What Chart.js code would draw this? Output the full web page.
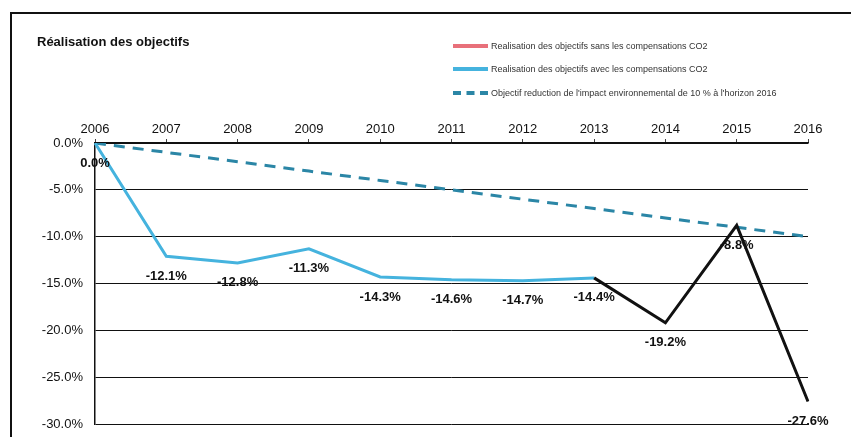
<!DOCTYPE html>
<html>
<head>
<meta charset="utf-8">
<script src="https://cdn.jsdelivr.net/npm/chart.js@4"></script>
<style>
  html, body { margin: 0; padding: 0; background: #fff; }
  #wrap { position: relative; width: 851px; height: 437px; overflow: hidden; font-family: "Liberation Sans", Arial, sans-serif; }
  #frame { position: absolute; left: 10px; top: 12px; width: 845px; height: 430px; border-left: 2px solid #111; border-top: 2px solid #111; }
  #title { position: absolute; left: 37px; top: 34px; font-size: 13px; font-weight: bold; color: #111; }
  #legend { position: absolute; left: 453px; top: 34px; font-size: 9px; color: #333; }
  #legend div { height: 23.5px; display: flex; align-items: center; }
  #legend span.sw { display: inline-block; width: 35px; height: 0; margin-right: 3px; }
  canvas { position: absolute; left: 0; top: 0; }
</style>
</head>
<body>
<div id="wrap">
  <div id="frame"></div>
  <canvas id="objectifsChart" width="851" height="437"></canvas>
  <div id="title">Réalisation des objectifs</div>
  <div id="legend"></div>
</div>
<script>
const years = ['2006', '2007', '2008', '2009', '2010', '2011', '2012', '2013', '2014', '2015', '2016'];
const avecCompensations = [0.0, -12.1, -12.8, -11.3, -14.3, -14.6, -14.7, -14.4, null, null, null];
const sansCompensations = [null, null, null, null, null, null, null, -14.4, -19.2, -8.8, -27.6];
const objectif = [0, -1, -2, -3, -4, -5, -6, -7, -8, -9, -10];

const legendItems = [
  { text: 'Realisation des objectifs sans les compensations CO2', border: '4px solid #e8707a' },
  { text: 'Realisation des objectifs avec les compensations CO2', border: '4px solid #45b3de' },
  { text: 'Objectif  reduction de l\'impact environnemental de 10 % à l\'horizon 2016', border: '4px dashed #2b86a6' }
];
const legendEl = document.getElementById('legend');
legendItems.forEach(function(item) {
  const row = document.createElement('div');
  row.innerHTML = '<span class="sw" style="border-top:' + item.border + '"></span>' + item.text;
  legendEl.appendChild(row);
});

// draws the percent labels under each point
const pointLabels = {
  id: 'pointLabels',
  afterDatasetsDraw: function(chart) {
    const ctx = chart.ctx;
    const x = chart.scales.x;
    const y = chart.scales.y;
    ctx.save();
    ctx.font = 'bold 13px "Liberation Sans", Arial, sans-serif';
    ctx.fillStyle = '#111';
    ctx.textAlign = 'center';
    ctx.textBaseline = 'middle';
    const done = {};
    [avecCompensations, sansCompensations].forEach(function(series) {
      series.forEach(function(v, i) {
        if (v === null || done[i]) return;
        done[i] = true;
        ctx.fillText(v.toFixed(1) + '%', x.getPixelForValue(i), y.getPixelForValue(v) + 20);
      });
    });
    ctx.restore();
  }
};

const ctx = document.getElementById('objectifsChart').getContext('2d');
const objectifsChart = new Chart(ctx, {
  type: 'line',
  data: {
    labels: years,
    datasets: [{
      label: 'Realisation des objectifs sans les compensations CO2',
      data: sansCompensations,
      borderColor: '#111',
      borderWidth: 3,
      pointRadius: 0,
      tension: 0
    },
    {
      label: 'Realisation des objectifs avec les compensations CO2',
      data: avecCompensations,
      borderColor: '#45b3de',
      borderWidth: 3,
      pointRadius: 0,
      tension: 0
    },
    {
      label: 'Objectif reduction de l\'impact environnemental de 10 % à l\'horizon 2016',
      data: objectif,
      borderColor: '#2b86a6',
      borderWidth: 3,
      borderDash: [11, 8],
      pointRadius: 0,
      tension: 0
    }]
  },
  options: {
    responsive: false,
    animation: false,
    layout: {
      padding: { top: 100, left: 0, right: 43, bottom: 13 }
    },
    scales: {
      x: {
        position: 'top',
        offset: false,
        grid: { display: true, drawOnChartArea: false, tickLength: 4, color: '#444' },
        border: { color: '#111', width: 1.5 },
        ticks: {
          color: '#111',
          font: { family: '"Liberation Sans", Arial, sans-serif', size: 13 },
          maxRotation: 0,
          padding: 2
        },
        afterFit: function(axis) { axis.height = 43; }
      },
      y: {
        min: -30,
        max: 0,
        grid: { color: '#111', lineWidth: 1, drawTicks: false },
        border: { color: '#111', width: 1.5 },
        ticks: {
          stepSize: 5,
          color: '#111',
          padding: 12,
          font: { family: '"Liberation Sans", Arial, sans-serif', size: 13 },
          callback: function(value) {
            return value.toFixed(1) + '%';
          }
        },
        afterFit: function(axis) {
          axis.width = 95;
          axis.paddingTop = 0;
          axis.paddingBottom = 0;
        }
      }
    },
    plugins: {
      legend: { display: false },
      title: { display: false },
      tooltip: { enabled: false }
    }
  },
  plugins: [pointLabels]
});
</script>
</body>
</html>
